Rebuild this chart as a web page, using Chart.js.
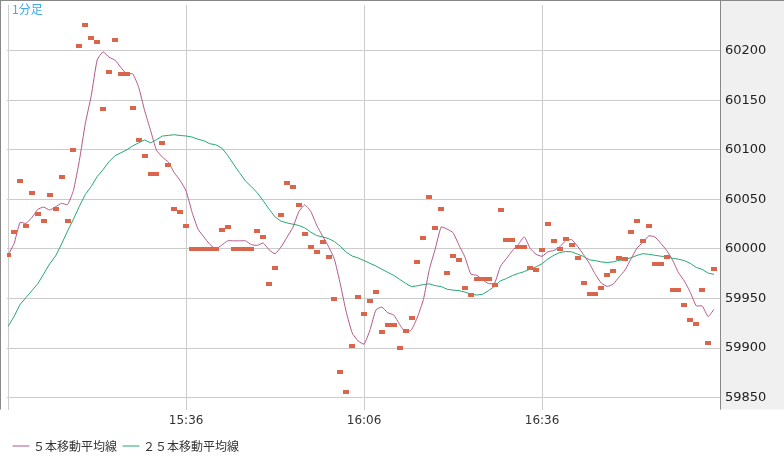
<!DOCTYPE html>
<html>
<head>
<meta charset="utf-8">
<script src="https://cdn.jsdelivr.net/npm/chart.js@4"></script>
<style>
  html, body { margin: 0; padding: 0; background: #fff; }
  #wrap { width: 784px; height: 462px; position: relative; }
</style>
</head>
<body>
<div id="wrap"><canvas id="c" width="784" height="462"></canvas></div>
<script>
// 1-minute closes, starting 15:06
const closes = [
  59994, 60017, 60069, 60023, 60056, 60035, 60028, 60054, 60040, 60073,
  60028, 60100, 60205, 60226, 60213, 60209, 60141, 60178, 60211, 60176,
  60176, 60142, 60110, 60094, 60076, 60076, 60107, 60085, 60040, 60037,
  60023, 60000, 60000, 60000, 60000, 60000, 60019, 60022, 60000, 60000,
  60000, 60000, 60018, 60012, 59965, 59981, 60034, 60067, 60062, 60044,
  60015, 60002, 59997, 60007, 59992, 59950, 59876, 59856, 59902, 59952,
  59934, 59948, 59957, 59916, 59923, 59923, 59900, 59917, 59930, 59987,
  60011, 60052, 60021, 60040, 59976, 59993, 59989, 59961, 59954, 59970,
  59970, 59970, 59964, 60039, 60009, 60009, 60002, 60002, 59981, 59979,
  59999, 60025, 60008, 60000, 60010, 60004, 59991, 59966, 59955, 59955,
  59961, 59974, 59978, 59991, 59990, 60017, 60028, 60008, 60023, 59985,
  59985, 59992, 59959, 59959, 59943, 59928, 59924, 59959, 59905, 59980
];
// 25-period MA as shown for the first bars (history before the window)
const ma25Head = [
  59922, 59932, 59944, 59951, 59958, 59965, 59975, 59985, 59993, 60005,
  60018, 60030, 60043, 60055, 60063, 60073, 60080, 60088, 60094, 60097,
  60100, 60104, 60107, 60110
];
const startMinute = 15 * 60 + 6;
const yTicks = [59850, 59900, 59950, 60000, 60050, 60100, 60150, 60200];

function movingAvg(arr, n, head) {
  return arr.map((v, i) => {
    if (head && i < head.length) return head[i];
    const s = arr.slice(Math.max(0, i - n + 1), i + 1);
    return s.reduce((a, b) => a + b, 0) / s.length;
  });
}
function hhmm(t) {
  return `${Math.floor(t / 60)}:${String(t % 60).padStart(2, "0")}`;
}

const ma5 = movingAvg(closes, 5);
const ma25 = movingAvg(closes, 25, ma25Head);
const pts = (arr) => arr.map((v, i) => ({ x: i, y: v }));

const dash = document.createElement("canvas");
dash.width = 6; dash.height = 4;
const dctx = dash.getContext("2d");
dctx.fillStyle = "#d9654a";
dctx.fillRect(0, 0, 6, 4);

const framePlugin = {
  id: "frame",
  beforeDraw(chart) {
    const { ctx, chartArea: a } = chart;
    ctx.save();
    ctx.fillStyle = "#f0f0f0";
    ctx.fillRect(a.right, 0, chart.width - a.right, a.bottom);
    ctx.restore();
  },
  afterDraw(chart) {
    const { ctx, chartArea: a } = chart;
    ctx.save();
    ctx.strokeStyle = "#888";
    ctx.lineWidth = 1;
    ctx.beginPath();
    ctx.moveTo(a.right + 0.5, 0);
    ctx.lineTo(a.right + 0.5, a.bottom);
    ctx.moveTo(0.5, 0);
    ctx.lineTo(0.5, a.bottom);
    ctx.moveTo(0, 0.5);
    ctx.lineTo(chart.width, 0.5);
    ctx.stroke();
    ctx.fillStyle = "#3fa9f5";
    ctx.font = "12px 'Noto Sans CJK JP'";
    ctx.textBaseline = "top";
    ctx.fillText("1分足", 12, 3);
    ctx.restore();
  }
};

new Chart(document.getElementById("c").getContext("2d"), {
  type: "line",
  data: {
    datasets: [
      { label: "５本移動平均線", data: pts(ma5), borderColor: "#b0588a", borderWidth: 1, pointRadius: 0, tension: 0.15, order: 1 },
      { label: "２５本移動平均線", data: pts(ma25), borderColor: "#27a873", borderWidth: 1, pointRadius: 0, tension: 0, order: 2 },
      { label: "close", data: pts(closes), showLine: false, pointStyle: dash, pointRadius: 3, order: 0 }
    ]
  },
  options: {
    responsive: false,
    animation: false,
    layout: { padding: { left: 7, top: 0, right: 0, bottom: 0 } },
    scales: {
      x: {
        type: "linear", min: -0.2, max: 120,
        afterBuildTicks: (s) => { s.ticks = [0, 30, 60, 90].map(v => ({ value: v })); },
        ticks: { callback: (v) => v === 0 ? "" : hhmm(startMinute + v), color: "#333", font: { family: "DejaVu Sans", size: 12 }, maxRotation: 0, padding: 4 },
        grid: { color: "#cccccc", drawTicks: false },
        border: { display: false }
      },
      y: {
        position: "right", min: 59838, max: 60246,
        afterBuildTicks: (s) => { s.ticks = yTicks.map(v => ({ value: v })); },
        afterFit: (s) => { s.width = 64; s.paddingTop = 0; s.paddingBottom = 0; },
        ticks: { callback: (v) => String(v), color: "#222", font: { family: "DejaVu Sans", size: 13 }, padding: 5 },
        grid: { color: "#cccccc", drawTicks: false },
        border: { display: false }
      }
    },
    plugins: {
      tooltip: { enabled: false },
      legend: {
        position: "bottom", align: "start",
        labels: {
          filter: (item) => item.text !== "close",
          usePointStyle: true, pointStyle: "line", boxWidth: 22,
          color: "#333", font: { family: "Noto Sans CJK JP", size: 12 }, padding: 8
        }
      }
    }
  },
  plugins: [framePlugin]
});
</script>
</body>
</html>
